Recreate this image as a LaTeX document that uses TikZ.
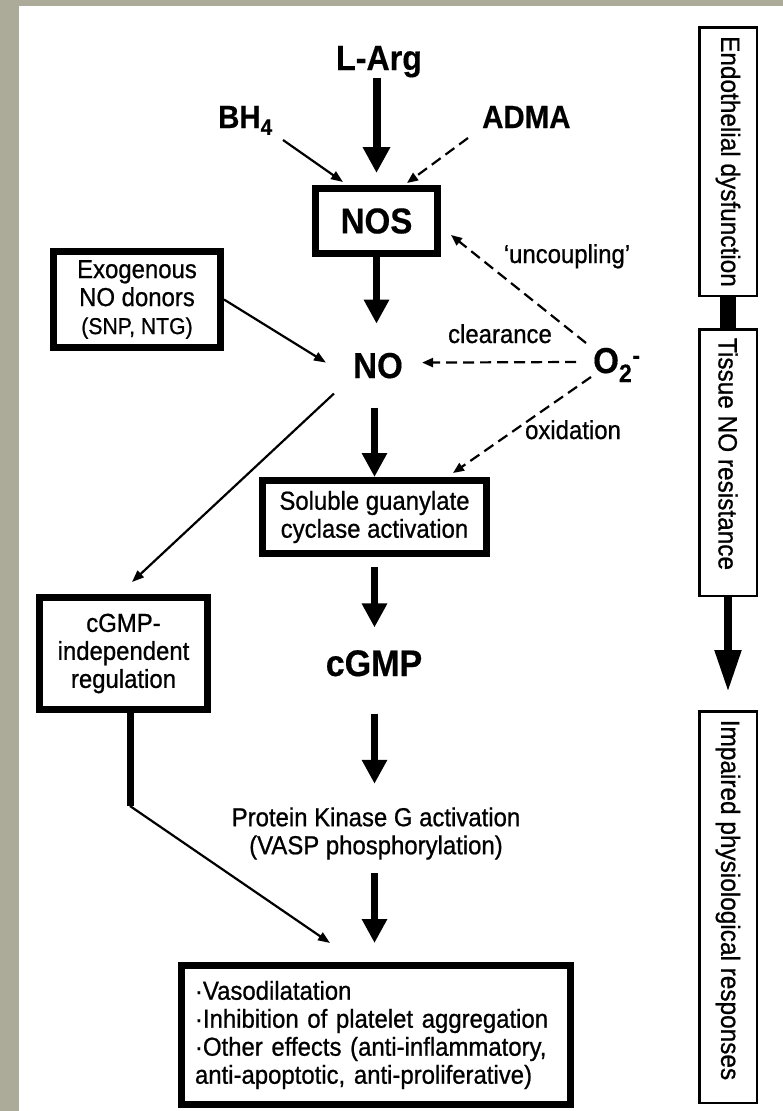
\documentclass[tikz,border=0pt]{standalone}
\usepackage{fontspec}
\setmainfont{Liberation Sans}[FakeStretch=0.92,FakeBold=0.4,UprightFeatures={RawFeature={embolden=0.8}}]
\usetikzlibrary{arrows.meta}
\definecolor{bggray}{RGB}{172,170,152}
\begin{document}
\begin{tikzpicture}[x=1pt,y=-1pt,
  fs/.style={font=\fontsize{26}{28}\selectfont},
  big/.style={font=\bfseries\fontsize{36}{40}\selectfont,inner sep=0pt},
  thickbox/.style={draw,line width=7pt,inner sep=0pt,align=center,fs},
  sidebox/.style={draw,line width=2.5pt,inner sep=0pt,rotate=-90,align=center,font=\fontsize{26.5}{30}\selectfont,minimum height=57.5pt},
  fatarr/.style={line width=7pt,-{Triangle[length=24pt,width=24pt]}},
  thinarr/.style={line width=2.2pt,-{Triangle[length=12pt,width=9pt]}},
  dsh/.style={line width=2.2pt,dash pattern=on 11pt off 6pt,-{Triangle[length=11pt,width=9pt]}},
]
\useasboundingbox (0,0) rectangle (783,1111);
\fill[bggray] (0,0) rectangle (783,1111);
\fill[white] (19,6) rectangle (783,1111);

% main column
\node[big,font=\bfseries\fontsize{35}{40}\selectfont,anchor=base] (larg) at (379,70) {L-Arg};
\node[big,font=\bfseries\fontsize{32}{36}\selectfont,anchor=base west] (bh4) at (218,128) {BH\textsubscript{4}};
\node[big,font=\bfseries\fontsize{32}{36}\selectfont,anchor=base west] (adma) at (482,128) {ADMA};
\node[thickbox,font=\bfseries\fontsize{36}{40}\selectfont,minimum width=122pt,minimum height=65pt] (nos) at (376.5,221) {NOS};
\node[big,anchor=base] (no) at (378,378) {NO};
\node[thickbox,minimum width=167pt,minimum height=96pt] (exo) at (137,299.5) {Exogenous\\NO donors\\{\fontsize{23}{28}\selectfont (SNP, NTG)}};
\node[big,anchor=base west] (o2) at (593,373) {O\textsubscript{2}\textsuperscript{-}};
\node[fs,anchor=base,inner sep=0pt] (clr) at (500,343) {clearance};
\node[fs,anchor=base,inner sep=0pt] (unc) at (567,263) {`uncoupling'};
\node[fs,anchor=base,inner sep=0pt] (oxi) at (573,439) {oxidation};
\node[thickbox,minimum width=224pt,minimum height=73pt] (sgc) at (374.5,517) {Soluble guanylate\\cyclase activation};
\node[thickbox,minimum width=168pt,minimum height=112pt] (cind) at (123.5,653.5) {cGMP-\\independent\\regulation};
\node[big,font=\bfseries\fontsize{37}{40}\selectfont,anchor=base] (cgmp) at (374,676) {cGMP};
\node[fs,align=center,inner sep=0pt] (pkg) at (376,833.5) {Protein Kinase G activation\\(VASP phosphorylation)};
\node[thickbox,align=left,minimum height=139pt,inner xsep=13.5pt,text width=362pt] (eff) at (376,1035) {·Vasodilatation\\·Inhibition of platelet aggregation\\·Other effects (anti-inflammatory,\\anti-apoptotic, anti-proliferative)};

% side column
\node[sidebox,minimum width=268.5pt] (endo) at (728,161.5) {Endothelial dysfunction};
\node[sidebox,minimum width=266.5pt] (tis) at (728,462.5) {Tissue NO resistance\hspace*{17pt}};
\node[sidebox,minimum width=391.5pt] (imp) at (728,907) {Impaired physiological responses\hspace*{14pt}};

% connectors
\draw[fatarr,line width=8pt,-{Triangle[length=26pt,width=26pt]},shorten >=12pt] (larg.south -| nos.north) -- (nos.north);
\draw[thinarr] ([shift={(65,12)}]bh4.base west) -- ([shift={(31,-3)}]nos.north west);
\draw[dsh] ([shift={(-14,10)}]adma.base west) -- ([shift={(-34,-2)}]nos.north east);
\draw[fatarr,shorten >=29pt] (nos.south) -- (nos.south |- no.north);
\draw[thinarr] (exo.east) -- ([shift={(-27,-3)}]no.west);
\draw[dsh] ([shift={(-17,-11)}]o2.base west) -- ([shift={(19,-3)}]no.east);
\draw[dsh] ([shift={(-7,-30)}]o2.base west) -- ([shift={(10,14)}]nos.east);
\draw[dsh] ([shift={(-2,4)}]o2.base west) -- ([shift={(-37,-4)}]sgc.north east);
\draw[fatarr,shorten <=29pt] (no.south -| sgc.north) -- (sgc.north);
\draw[thinarr] ([shift={(-19,15)}]no.south west) -- ([shift={(8.5,-12)}]cind.north);
\draw[fatarr,shorten <=10pt,shorten >=22.5pt] (sgc.south) -- (sgc.south |- cgmp.north);
\draw[fatarr,shorten <=37pt,shorten >=23.4pt] (cgmp.south -| sgc.south) -- (sgc.south |- pkg.north);
\draw[fatarr,shorten <=13.5pt,shorten >=19pt] (pkg.south -| sgc.south) -- (sgc.south |- eff.north);
\coordinate (bend) at (130,806);
\draw[line width=7pt] (bend |- cind.south) -- (bend);
\draw[thinarr] (bend) -- ([shift={(152,-19)}]eff.north west);

\draw[line width=16pt] (endo.east) -- (tis.west);
\draw[fatarr,line width=8pt,-{Triangle[length=42pt,width=25pt]},shorten >=18pt] (tis.east) -- (imp.west);
\end{tikzpicture}
\end{document}
